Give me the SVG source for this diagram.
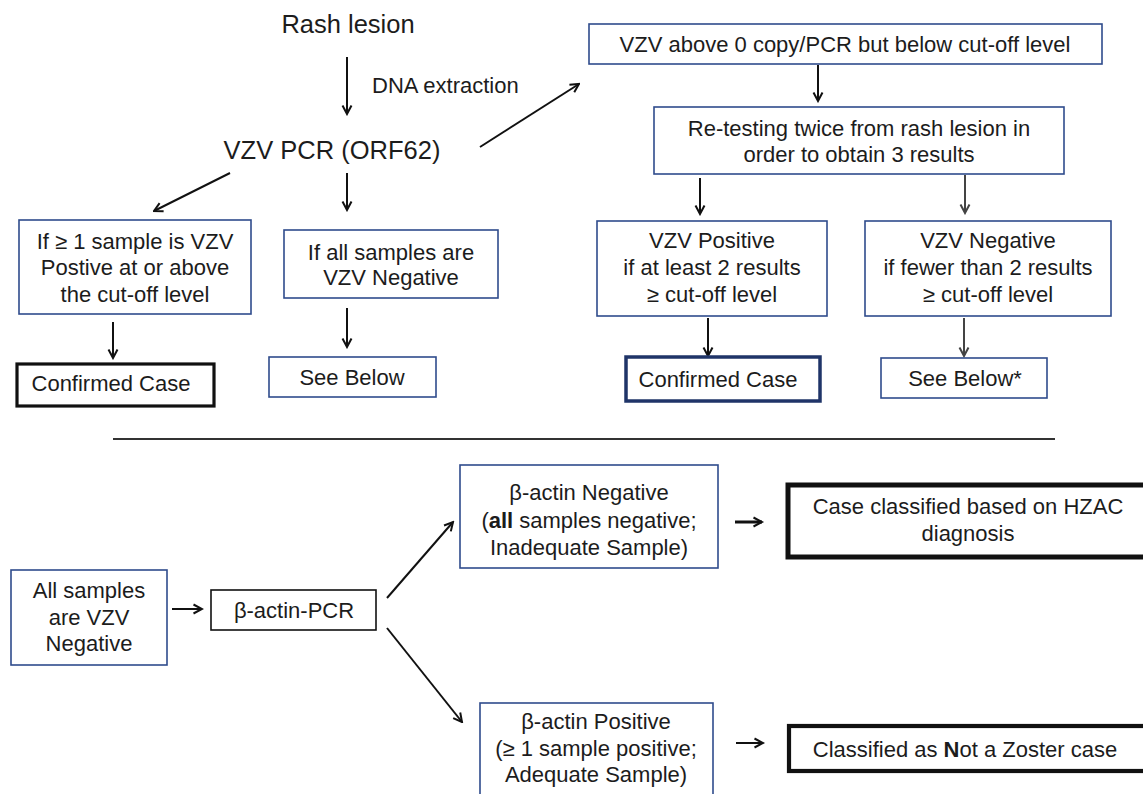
<svg xmlns="http://www.w3.org/2000/svg" width="1143" height="794" viewBox="0 0 1143 794">
<defs>
<marker id="ah" viewBox="0 0 12 12" refX="10.5" refY="6" markerWidth="12" markerHeight="12" markerUnits="userSpaceOnUse" orient="auto">
<path d="M2,1.5 L10.5,6 L2,10.5" fill="none" stroke="#111" stroke-width="2"/>
</marker>
<marker id="ahg" viewBox="0 0 12 12" refX="10.5" refY="6" markerWidth="12" markerHeight="12" markerUnits="userSpaceOnUse" orient="auto">
<path d="M2,1.5 L10.5,6 L2,10.5" fill="none" stroke="#444" stroke-width="2"/>
</marker>
</defs>
<style>
text{font-family:"Liberation Sans",Arial,sans-serif;font-size:22px;fill:#1c1c1c;text-anchor:middle}
.big{font-size:25.5px}
.bx{fill:#fff;stroke:#2f4b8c;stroke-width:1.6}
.bk{fill:#fff;stroke:#111;stroke-width:1.6}
.th{fill:#fff;stroke:#111;stroke-width:3.2}
.nv{fill:#fff;stroke:#1f3468;stroke-width:3.5}
.xt{fill:#fff;stroke:#111;stroke-width:5}
.x4{fill:#fff;stroke:#111;stroke-width:4.2}
.c{stroke:#111;stroke-width:2;fill:none;marker-end:url(#ah)}
.g{stroke:#444;stroke-width:2;fill:none;marker-end:url(#ahg)}
</style>
<rect width="1143" height="794" fill="#fff"/>
<g id="connectors">
<line class="c" x1="347" y1="57" x2="347" y2="114"/>
<line class="c" x1="480" y1="147" x2="579" y2="84"/>
<line class="c" x1="230" y1="173" x2="154" y2="211"/>
<line class="c" x1="347" y1="173" x2="347" y2="210"/>
<line class="c" x1="113" y1="322" x2="113" y2="358"/>
<line class="c" x1="347" y1="308" x2="347" y2="347"/>
<line class="c" x1="818" y1="65" x2="818" y2="101"/>
<line class="c" x1="700" y1="178" x2="700" y2="214"/>
<line class="g" x1="965" y1="175" x2="965" y2="213"/>
<line class="c" x1="708" y1="318" x2="708" y2="356"/>
<line class="g" x1="964" y1="318" x2="964" y2="356"/>
<line class="c" x1="172" y1="609" x2="202" y2="609"/>
<line class="c" x1="387" y1="598" x2="453" y2="522"/>
<line class="c" x1="387" y1="628" x2="462" y2="722"/>
<line class="c" x1="735" y1="522" x2="762" y2="522" style="stroke-width:3"/>
<line class="c" x1="736" y1="743" x2="763" y2="743"/>
<line x1="113" y1="439" x2="1055" y2="439" stroke="#333" stroke-width="2"/>
</g>
<g id="rash"><text class="big" x="348" y="33">Rash lesion</text></g>
<g id="dna"><text x="372" y="93" style="text-anchor:start">DNA extraction</text></g>
<g id="pcr"><text class="big" x="332" y="159">VZV PCR (ORF62)</text></g>
<g id="pos1">
<rect class="bx" x="19" y="220" width="232" height="94"/>
<text x="135" y="249">If ≥ 1 sample is VZV</text>
<text x="135" y="275">Postive at or above</text>
<text x="135" y="302">the cut-off level</text>
</g>
<g id="neg1">
<rect class="bx" x="284" y="230" width="214" height="68"/>
<text x="391" y="260">If all samples are</text>
<text x="391" y="285">VZV Negative</text>
</g>
<g id="conf1">
<rect class="th" x="17" y="364" width="197" height="42"/>
<text x="111" y="391">Confirmed Case</text>
</g>
<g id="below1">
<rect class="bx" x="269" y="357" width="167" height="40"/>
<text x="352" y="385">See Below</text>
</g>
<g id="low">
<rect class="bx" x="589" y="24" width="513" height="40"/>
<text x="845" y="52">VZV above 0 copy/PCR but below cut-off level</text>
</g>
<g id="retest">
<rect class="bx" x="654" y="107" width="410" height="67"/>
<text x="859" y="136">Re-testing twice from rash lesion in</text>
<text x="859" y="162">order to obtain 3 results</text>
</g>
<g id="pos2">
<rect class="bx" x="597" y="221" width="230" height="95"/>
<text x="712" y="248">VZV Positive</text>
<text x="712" y="275">if at least 2 results</text>
<text x="712" y="302">≥ cut-off level</text>
</g>
<g id="neg2">
<rect class="bx" x="865" y="221" width="246" height="95"/>
<text x="988" y="248">VZV Negative</text>
<text x="988" y="275">if fewer than 2 results</text>
<text x="988" y="302">≥ cut-off level</text>
</g>
<g id="conf2">
<rect class="nv" x="626" y="357" width="194" height="44"/>
<text x="718" y="387">Confirmed Case</text>
</g>
<g id="below2">
<rect class="bx" x="881" y="358" width="166" height="40"/>
<text x="965" y="386">See Below*</text>
</g>
<g id="allneg">
<rect class="bx" x="11" y="570" width="156" height="95"/>
<text x="89" y="598">All samples</text>
<text x="89" y="625">are VZV</text>
<text x="89" y="651">Negative</text>
</g>
<g id="actinpcr">
<rect class="bk" x="211" y="590" width="165" height="40"/>
<text x="294" y="618">β-actin-PCR</text>
</g>
<g id="actinneg">
<rect class="bx" x="460" y="465" width="258" height="103"/>
<text x="589" y="500">β-actin Negative</text>
<text x="589" y="528">(<tspan font-weight="bold">all</tspan> samples negative;</text>
<text x="589" y="555">Inadequate Sample)</text>
</g>
<g id="hzac">
<rect class="xt" x="788" y="485" width="380" height="72"/>
<text x="968" y="514">Case classified based on HZAC</text>
<text x="968" y="541">diagnosis</text>
</g>
<g id="actinpos">
<rect class="bx" x="480" y="703" width="233" height="110"/>
<text x="596" y="729">β-actin Positive</text>
<text x="596" y="756">(≥ 1 sample positive;</text>
<text x="596" y="782">Adequate Sample)</text>
</g>
<g id="notzoster">
<rect class="x4" x="789" y="726" width="380" height="45"/>
<text x="965" y="757">Classified as <tspan font-weight="bold">N</tspan>ot a Zoster case</text>
</g>
</svg>
